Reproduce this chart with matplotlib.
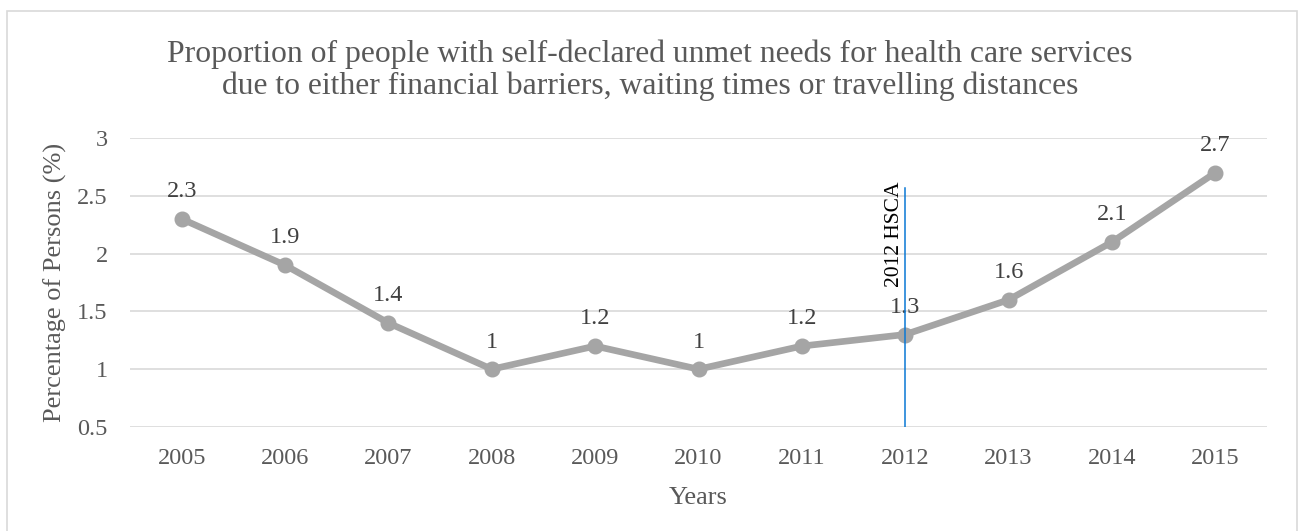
import matplotlib
matplotlib.use("Agg")
import matplotlib.pyplot as plt
from matplotlib.patches import Rectangle

years = ["2005", "2006", "2007", "2008", "2009", "2010", "2011", "2012", "2013", "2014", "2015"]
values = [2.3, 1.9, 1.4, 1.0, 1.2, 1.0, 1.2, 1.3, 1.6, 2.1, 2.7]
value_labels = ["2.3", "1.9", "1.4", "1", "1.2", "1", "1.2", "1.3", "1.6", "2.1", "2.7"]
y_ticks = [0.5, 1, 1.5, 2, 2.5, 3]
y_tick_labels = ["0.5", "1", "1.5", "2", "2.5", "3"]
marker_year = "2012"
marker_text = "2012 HSCA"
marker_top = 2.57

plt.rcParams["font.family"] = ["Liberation Serif", "DejaVu Serif"]
W, H = 1301, 531
fig = plt.figure(figsize=(W / 100, H / 100), dpi=100)

# outer chart frame
fig.patches.append(Rectangle((7 / W, -0.01), 1290 / W, 1 - 11 / H + 0.01,
                             transform=fig.transFigure, fill=False,
                             edgecolor="#D9D9D9", linewidth=1.2))

ax = fig.add_axes([130 / W, 1 - 427 / H, 1137 / W, 289 / H])
x = list(range(len(years)))
ax.set_xlim(-0.5, len(years) - 0.5)
ax.set_ylim(0.5, 3)
ax.set_yticks(y_ticks)
ax.set_yticklabels(y_tick_labels)
ax.set_xticks(x)
ax.set_xticklabels(years)
ax.grid(axis="y", color="#D9D9D9", linewidth=1.2)
ax.set_axisbelow(True)
for s in ax.spines.values():
    s.set_visible(False)
ax.tick_params(length=0, labelsize=17.5, colors="#595959")
ax.tick_params(axis="y", pad=16)
ax.tick_params(axis="x", pad=15)

ax.plot(x, values, color="#A5A5A5", linewidth=4.8, marker="o", markersize=10.5,
        solid_capstyle="round", zorder=3)
for xi, v, lab in zip(x, values, value_labels):
    ax.annotate(lab, (xi, v), xytext=(0, 12), textcoords="offset points",
                ha="center", va="bottom", fontsize=17.5, color="#404040", zorder=4)

# policy marker line with its vertical caption
xm = years.index(marker_year)
ax.plot([xm, xm], [0.5, marker_top], color="#0A78D4", linewidth=1.1, zorder=5)
ax.text(xm - 0.01, marker_top + 0.05, marker_text, rotation=90, ha="right", va="top",
        fontsize=15.5, color="black", zorder=6)

ax.set_ylabel("Percentage of Persons (%)", fontsize=19, color="#595959", labelpad=7)
ax.set_xlabel("Years", fontsize=19, color="#595959", labelpad=13)

fig.text(0.5 * (130 + 1170) / W, 1 - 70 / H,
         "Proportion of people with self-declared unmet needs for health care services\n"
         "due to either financial barriers, waiting times or travelling distances",
         ha="center", va="center", fontsize=22.8, color="#595959", linespacing=1.1)

fig.savefig("out.png", dpi=100)
